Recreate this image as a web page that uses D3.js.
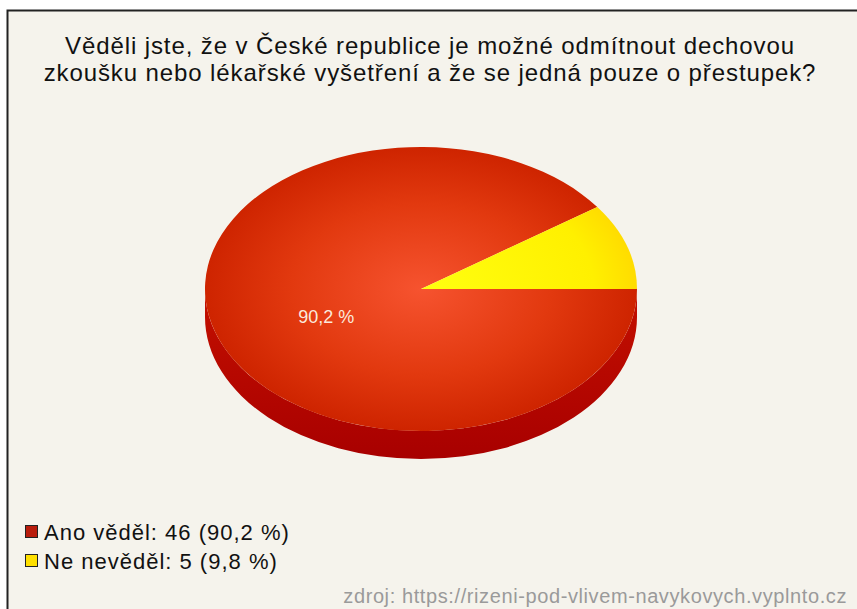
<!DOCTYPE html>
<html>
<head>
<meta charset="utf-8">
<script src="https://cdn.jsdelivr.net/npm/d3@7"></script>
<style>
  html, body { margin: 0; padding: 0; background: #fff; }
  svg { display: block; font-family: "Liberation Sans", Arial, sans-serif; }
</style>
</head>
<body>
<div id="chart"></div>
<script>
// data
var titleLines = ["Věděli jste, že v České republice je možné odmítnout dechovou",
                  "zkoušku nebo lékařské vyšetření a že se jedná pouze o přestupek?"];
var categories = ["Ano věděl", "Ne nevěděl"];
var counts = [46, 5];
var percents = ["90,2 %", "9,8 %"];
var sourceText = "zdroj: https://rizeni-pod-vlivem-navykovych.vyplnto.cz";

var W = 857, H = 609;
var cx = 421, cy = 289, rx = 216, ry = 142, depth = 28;

var svg = d3.select("#chart").append("svg")
    .attr("width", W)
    .attr("height", H);

var defs = svg.append("defs");

var redGrad = defs.append("radialGradient")
    .attr("id", "redTop")
    .attr("gradientUnits", "userSpaceOnUse")
    .attr("cx", 0).attr("cy", 0).attr("r", rx);
redGrad.append("stop").attr("offset", "0%").attr("stop-color", "#f6532f");
redGrad.append("stop").attr("offset", "60%").attr("stop-color", "#e2390f");
redGrad.append("stop").attr("offset", "100%").attr("stop-color", "#ce2400");

var yelGrad = defs.append("radialGradient")
    .attr("id", "yelTop")
    .attr("gradientUnits", "userSpaceOnUse")
    .attr("cx", 0).attr("cy", 0).attr("r", rx);
yelGrad.append("stop").attr("offset", "0%").attr("stop-color", "#ffff10");
yelGrad.append("stop").attr("offset", "80%").attr("stop-color", "#fff000");
yelGrad.append("stop").attr("offset", "100%").attr("stop-color", "#ffdc00");

var sideGrad = defs.append("linearGradient")
    .attr("id", "side")
    .attr("x1", 0).attr("y1", 0).attr("x2", 0).attr("y2", 1);
sideGrad.append("stop").attr("offset", "0%").attr("stop-color", "#c41000");
sideGrad.append("stop").attr("offset", "100%").attr("stop-color", "#a80000");

// frame
svg.append("rect")
    .attr("x", 7.5).attr("y", 10.5)
    .attr("width", W).attr("height", H)
    .attr("fill", "#f5f3ec")
    .attr("stroke", "#222")
    .attr("stroke-width", 2);

// title
svg.append("g").selectAll("text")
    .data(titleLines)
    .enter().append("text")
    .attr("x", 430)
    .attr("y", function(d, i) { return 54 + i * 27; })
    .attr("text-anchor", "middle")
    .attr("font-size", "24px")
    .attr("letter-spacing", "0.9px")
    .attr("fill", "#111")
    .text(function(d) { return d; });

// pie
var pie = d3.pie().sort(null)
    .startAngle(Math.PI / 2)
    .endAngle(Math.PI / 2 + 2 * Math.PI);
var arcs = pie(counts);

var arc = d3.arc().innerRadius(0).outerRadius(rx);

// side wall (front half of the ellipse, all of it in the first slice)
var wall = "M" + (cx + rx) + "," + cy +
    "L" + (cx + rx) + "," + (cy + depth) +
    "A" + rx + "," + ry + " 0 0 1 " + (cx - rx) + "," + (cy + depth) +
    "L" + (cx - rx) + "," + cy +
    "A" + rx + "," + ry + " 0 0 0 " + (cx + rx) + "," + cy + "Z";
svg.append("path")
    .attr("d", wall)
    .attr("fill", "url(#side)");

var pieTop = svg.append("g")
    .attr("transform", "translate(" + cx + "," + cy + ") scale(1," + (ry / rx) + ")");

pieTop.selectAll("path")
    .data(arcs)
    .enter().append("path")
    .attr("d", arc)
    .attr("fill", function(d, i) { return i == 0 ? "url(#redTop)" : "url(#yelTop)"; });

// label of the big slice
var labelArc = d3.arc().innerRadius(rx * 0.46).outerRadius(rx * 0.46);
var c = labelArc.centroid(arcs[0]);
svg.append("text")
    .attr("x", cx + c[0])
    .attr("y", cy + c[1] * ry / rx + 14)
    .attr("text-anchor", "middle")
    .attr("font-size", "18px")
    .attr("fill", "#fbe9dc")
    .text(percents[0]);

// legend
var legend = svg.append("g").selectAll("g")
    .data(categories)
    .enter().append("g")
    .attr("transform", function(d, i) { return "translate(25," + (525 + i * 29) + ")"; });

legend.append("rect")
    .attr("x", 0.5).attr("y", 0.5)
    .attr("width", 12).attr("height", 12)
    .attr("fill", function(d, i) { return i == 0 ? "#b81c0c" : "#ffe000"; })
    .attr("stroke", "#222")
    .attr("stroke-width", 1);

legend.append("text")
    .attr("x", 19)
    .attr("y", 15)
    .attr("font-size", "22px")
    .attr("letter-spacing", "1px")
    .attr("fill", "#111")
    .text(function(d, i) { return d + ": " + counts[i] + " (" + percents[i] + ")"; });

// source
svg.append("text")
    .attr("x", 847)
    .attr("y", 603)
    .attr("text-anchor", "end")
    .attr("font-size", "20px")
    .attr("letter-spacing", "0.6px")
    .attr("fill", "#9a9a9a")
    .text(sourceText);
</script>
</body>
</html>
